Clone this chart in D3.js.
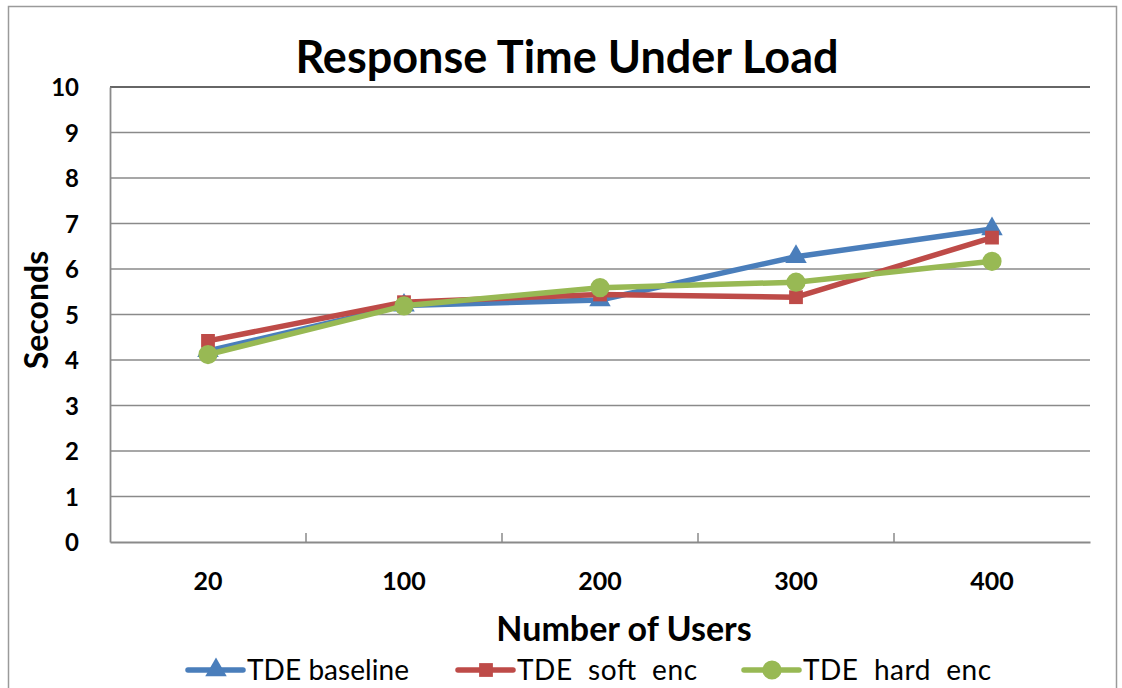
<!DOCTYPE html>
<html><head><meta charset="utf-8">
<script src="https://cdn.jsdelivr.net/npm/d3@7"></script>
<style>body{margin:0;background:#fff}svg{display:block}text{font-family:Lato,"Open Sans",sans-serif}</style>
</head><body><svg id="c" width="1122" height="688"></svg>
<script>
const categories = ["20","100","200","300","400"];
const baseline = [4.2, 5.2, 5.32, 6.27, 6.88];
const softEnc = [4.42, 5.27, 5.44, 5.38, 6.69];
const hardEnc = [4.12, 5.19, 5.59, 5.71, 6.17];
const yTicks = [0,1,2,3,4,5,6,7,8,9,10];
const seriesNames = ["TDE baseline","TDE  soft  enc","TDE  hard  enc"];
const colors = ["#4a7ebb","#be4b48","#98b954"];
const symbols = ["triangle","square","circle"];

const svg = d3.select("#c");
const L=110,R=1090,T=87,B=542;
svg.append("rect").attr("x",8.5).attr("y",6.5).attr("width",1108).attr("height",700)
  .attr("fill","none").attr("stroke","#9a9a9a").attr("stroke-width",1.5);

const x = d3.scaleBand().domain(categories).range([L,R]);
const y = d3.scaleLinear().domain([0,10]).range([B,T]);

// gridlines
svg.append("g").selectAll("line").data(yTicks.filter(d=>d>0)).join("line")
  .attr("x1",L).attr("x2",R).attr("y1",d=>y(d)).attr("y2",d=>y(d))
  .attr("stroke",d=>d===10?"#333":"#8a8a8a").attr("stroke-width",1.6);

// y axis
const ya = svg.append("g").attr("transform",`translate(${L},0)`)
  .call(d3.axisLeft(y).tickValues(yTicks).tickSize(0).tickPadding(31));
ya.select(".domain").attr("stroke","#8a8a8a").attr("stroke-width",1.8);
ya.selectAll("text").attr("font-size",24).attr("font-weight","bold").attr("fill","#000").attr("dy","0.36em");

// x axis
const xa = svg.append("g").attr("transform",`translate(0,${B})`)
  .call(d3.axisBottom(x).tickSize(0).tickPadding(30));
xa.select(".domain").attr("stroke","#8a8a8a").attr("stroke-width",1.8);
xa.selectAll("text").attr("font-size",25).attr("font-weight","bold").attr("fill","#000");
svg.append("g").selectAll("line").data(categories.slice(1)).join("line")
  .attr("x1",d=>x(d)).attr("x2",d=>x(d)).attr("y1",B-9).attr("y2",B)
  .attr("stroke","#8a8a8a").attr("stroke-width",1.5);

// title & axis titles
svg.append("text").attr("x",567).attr("y",73).attr("text-anchor","middle")
  .attr("font-size",45).attr("font-weight","bold").text("Response Time Under Load");
svg.append("text").attr("x",624).attr("y",641).attr("text-anchor","middle")
  .attr("font-size",34).attr("font-weight","bold").text("Number of Users");
svg.append("text").attr("transform","translate(48,310) rotate(-90)").attr("text-anchor","middle")
  .attr("font-size",32).attr("font-weight","bold").text("Seconds");

const data = [baseline, softEnc, hardEnc];
const line = d3.line().x((d,i)=>x(categories[i])+x.bandwidth()/2).y(d=>y(d));
const symFor = s => s==="triangle"?d3.symbol(d3.symbolTriangle,200):s==="square"?d3.symbol(d3.symbolSquare,190):d3.symbol(d3.symbolCircle,290);

data.forEach((vals,k)=>{
  const g = svg.append("g");
  g.append("path").datum(vals).attr("d",line).attr("fill","none")
   .attr("stroke",colors[k]).attr("stroke-width",5.5).attr("stroke-linejoin","round");
  g.selectAll("path.m").data(vals).join("path").attr("class","m")
   .attr("transform",(d,i)=>`translate(${x(categories[i])+x.bandwidth()/2},${y(d)})`)
   .attr("d",symFor(symbols[k])()).attr("fill",colors[k]);
});

// legend
const legX = [188, 458, 744];
const txtW = [162, 180, 188];
const lg = svg.append("g");
seriesNames.forEach((n,k)=>{
  const cy = 670;
  lg.append("line").attr("x1",legX[k]).attr("x2",legX[k]+55).attr("y1",cy).attr("y2",cy)
    .attr("stroke",colors[k]).attr("stroke-width",5.5).attr("stroke-linecap","round");
  lg.append("path").attr("transform",`translate(${legX[k]+28},${cy})`)
    .attr("d",symFor(symbols[k])()).attr("fill",colors[k]);
  lg.append("text").attr("x",legX[k]+59).attr("y",cy+10).attr("font-size",28)
    .attr("textLength",txtW[k]).attr("lengthAdjust","spacing")
    .style("white-space","pre").text(n);
});
</script></body></html>
